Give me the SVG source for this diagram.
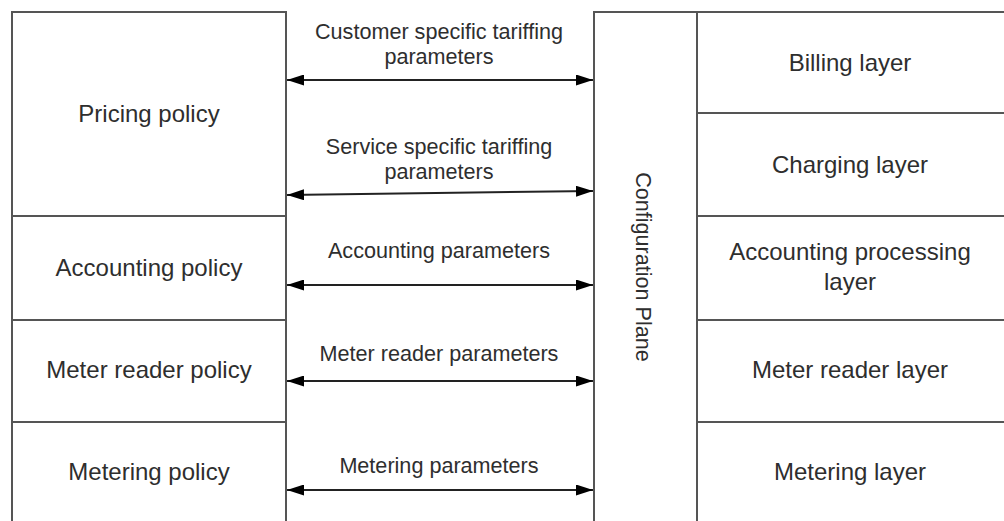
<svg xmlns="http://www.w3.org/2000/svg" width="1004" height="521" viewBox="0 0 1004 521">
<style>
.box{fill:#fff;stroke:#555;stroke-width:2}
.t{font-family:"Liberation Sans",Arial,sans-serif;font-size:24px;fill:#2e2e2e;text-anchor:middle}
.m{font-family:"Liberation Sans",Arial,sans-serif;font-size:21.6px;fill:#2e2e2e;text-anchor:middle}
.c{stroke:#222;stroke-width:2;fill:none;marker-start:url(#a);marker-end:url(#a)}
</style>
<defs>
<marker id="a" viewBox="0 0 17 11" refX="17" refY="5.5" markerWidth="17" markerHeight="11" markerUnits="userSpaceOnUse" orient="auto-start-reverse">
<path d="M0,0 L17,5.5 L0,11 Z" fill="#000"/>
</marker>
</defs>
<rect width="1004" height="521" fill="#fff"/>
<g id="pricing"><rect class="box" x="12" y="12" width="274" height="204"/><text class="t" x="149" y="122">Pricing policy</text></g>
<g id="accounting-policy"><rect class="box" x="12" y="216" width="274" height="104"/><text class="t" x="149" y="276">Accounting policy</text></g>
<g id="meter-reader-policy"><rect class="box" x="12" y="320" width="274" height="102"/><text class="t" x="149" y="378">Meter reader policy</text></g>
<g id="metering-policy"><rect class="box" x="12" y="422" width="274" height="110"/><text class="t" x="149" y="480">Metering policy</text></g>
<g id="config-plane"><rect class="box" x="594" y="12" width="103" height="520"/><text class="m" transform="translate(636,267) rotate(90)">Configuration Plane</text></g>
<g id="billing"><rect class="box" x="697" y="12" width="320" height="101"/><text class="t" x="850" y="71">Billing layer</text></g>
<g id="charging"><rect class="box" x="697" y="113" width="320" height="103"/><text class="t" x="850" y="173">Charging layer</text></g>
<g id="accounting-processing"><rect class="box" x="697" y="216" width="320" height="104"/><text class="t" x="850" y="260">Accounting processing</text><text class="t" x="850" y="290">layer</text></g>
<g id="meter-reader-layer"><rect class="box" x="697" y="320" width="320" height="102"/><text class="t" x="850" y="378">Meter reader layer</text></g>
<g id="metering-layer"><rect class="box" x="697" y="422" width="320" height="110"/><text class="t" x="850" y="480">Metering layer</text></g>
<g id="connectors">
<line class="c" x1="287" y1="80" x2="593" y2="80"/>
<line class="c" x1="287" y1="195" x2="593" y2="191"/>
<line class="c" x1="287" y1="285" x2="593" y2="285"/>
<line class="c" x1="287" y1="381" x2="593" y2="381"/>
<line class="c" x1="287" y1="490" x2="593" y2="490"/>
</g>
<g id="labels">
<text class="m" x="439" y="39">Customer specific tariffing</text>
<text class="m" x="439" y="64">parameters</text>
<text class="m" x="439" y="154">Service specific tariffing</text>
<text class="m" x="439" y="179">parameters</text>
<text class="m" x="439" y="258">Accounting parameters</text>
<text class="m" x="439" y="361">Meter reader parameters</text>
<text class="m" x="439" y="473">Metering parameters</text>
</g>
</svg>
